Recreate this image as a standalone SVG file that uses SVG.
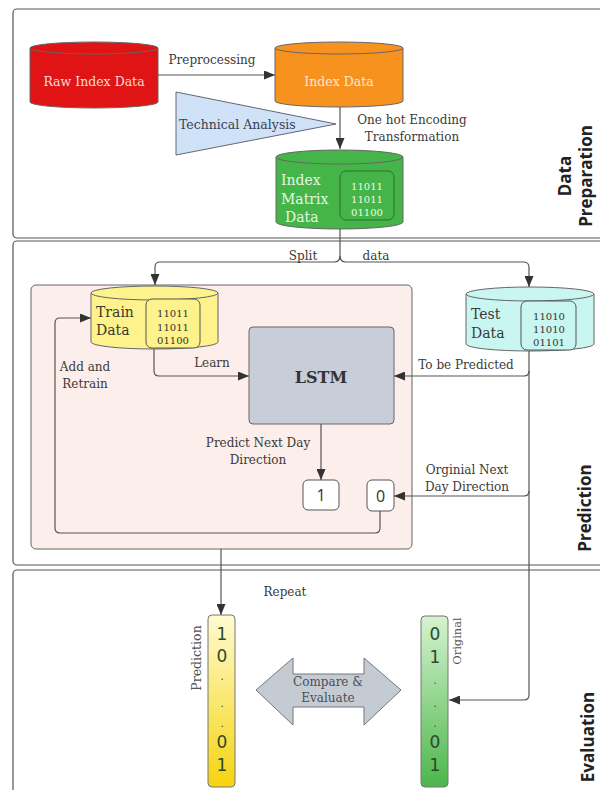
<svg xmlns="http://www.w3.org/2000/svg" width="600" height="790" viewBox="0 0 600 790">
<defs>
<style>
.sec{fill:#fff;stroke:#555;stroke-width:1.2}
.lbl{font-family:"DejaVu Serif","Liberation Serif",serif;font-size:12px;fill:#3a3a3a}
.big{font-family:"DejaVu Serif","Liberation Serif",serif;font-size:14px}
.bin{font-family:"DejaVu Serif","Liberation Serif",serif;font-size:10px;text-anchor:middle}
.side{font-family:"Open Sans","DejaVu Sans",sans-serif;font-size:17px;font-weight:bold;fill:#222;text-anchor:middle}
.dig{font-family:"DejaVu Sans","Open Sans",sans-serif;font-size:17px;fill:#2c4a2c;text-anchor:middle}
.dot{font-family:"DejaVu Sans","Open Sans",sans-serif;font-size:10px;fill:#2c4a2c;text-anchor:middle}
.con{fill:none;stroke:#555;stroke-width:1.2}
.cyl{stroke:#666;stroke-width:1}
</style>
<marker id="ah" markerUnits="userSpaceOnUse" markerWidth="11" markerHeight="9" refX="11" refY="4.5" orient="auto">
<path d="M0,0 L11,4.5 L0,9 Z" fill="#333"/>
</marker>
<linearGradient id="gy" x1="0" y1="0" x2="0" y2="1">
<stop offset="0" stop-color="#fffbd2"/><stop offset="1" stop-color="#f5d40f"/>
</linearGradient>
<linearGradient id="gg" x1="0" y1="0" x2="0" y2="1">
<stop offset="0" stop-color="#d6f3cf"/><stop offset="1" stop-color="#4cb64c"/>
</linearGradient>
</defs>

<g id="sections">
<rect class="sec" x="13" y="9" width="600" height="229" rx="4"/>
<rect class="sec" x="13" y="241" width="600" height="324" rx="4"/>
<rect class="sec" x="13" y="570" width="600" height="240" rx="4"/>
<rect x="31" y="285" width="381" height="264" rx="5" fill="#fbeeeb" stroke="#666" stroke-width="1"/>
<text class="side" transform="translate(571,176) rotate(-90)">Data</text>
<text class="side" transform="translate(592,176) rotate(-90)">Preparation</text>
<text class="side" transform="translate(591,508) rotate(-90)">Prediction</text>
<text class="side" transform="translate(594,737) rotate(-90)">Evaluation</text>
</g>

<g id="connectors">
<path class="con" d="M158 75 H275" marker-end="url(#ah)"/>
<path class="con" d="M340 107 V149" marker-end="url(#ah)"/>
<path class="con" d="M340 229 V256 Q340 262 334 262 H160 Q155 262 155 267 V285" marker-end="url(#ah)"/>
<path class="con" d="M340 256 Q340 262 346 262 H523 Q529 262 529 267 V287" marker-end="url(#ah)"/>
<path class="con" d="M154 349 V371 Q154 376 159 376 H249" marker-end="url(#ah)"/>
<path class="con" d="M529 351 V695 Q529 700 524 700 H449" marker-end="url(#ah)"/>
<path class="con" d="M529 371 Q529 376 524 376 H394" marker-end="url(#ah)"/>
<path class="con" d="M529 491 Q529 496 524 496 H394" marker-end="url(#ah)"/>
<path class="con" d="M321 424 V480" marker-end="url(#ah)"/>
<path class="con" d="M380 511 V528 Q380 533 375 533 H60 Q55 533 55 528 V323 Q55 318 60 318 H91" marker-end="url(#ah)"/>
<path class="con" d="M221 549 V615" marker-end="url(#ah)"/>
<text class="lbl" x="212" y="64" text-anchor="middle">Preprocessing</text>
<text class="lbl" x="412" y="124" text-anchor="middle">One hot Encoding</text>
<text class="lbl" x="412" y="141" text-anchor="middle">Transformation</text>
<text class="lbl" x="303" y="260" text-anchor="middle">Split</text>
<text class="lbl" x="376" y="260" text-anchor="middle">data</text>
<text class="lbl" x="212" y="367" text-anchor="middle">Learn</text>
<text class="lbl" x="466" y="369" text-anchor="middle">To be Predicted</text>
<text class="lbl" x="85" y="371" text-anchor="middle">Add and</text>
<text class="lbl" x="85" y="388" text-anchor="middle">Retrain</text>
<text class="lbl" x="258" y="447" text-anchor="middle">Predict Next Day</text>
<text class="lbl" x="258" y="464" text-anchor="middle">Direction</text>
<text class="lbl" x="467" y="474" text-anchor="middle">Orginial Next</text>
<text class="lbl" x="467" y="491" text-anchor="middle">Day Direction</text>
<text class="lbl" x="285" y="596" text-anchor="middle">Repeat</text>
</g>

<g id="raw-index-data">
<path class="cyl" d="M30 48 V102 A64 6 0 0 0 158 102 V48 Z" fill="#e01414"/>
<ellipse class="cyl" cx="94" cy="48" rx="64" ry="6" fill="#e01414"/>
<text class="lbl" x="94" y="86" text-anchor="middle" style="fill:#f8dcd6;font-size:12.5px">Raw Index Data</text>
</g>

<g id="index-data">
<path class="cyl" d="M275 48 V101 A64 6 0 0 0 403 101 V48 Z" fill="#f7921f"/>
<ellipse class="cyl" cx="339" cy="48" rx="64" ry="6" fill="#f7921f"/>
<text class="lbl" x="339" y="86" text-anchor="middle" style="fill:#fde8cc;font-size:12.5px">Index Data</text>
</g>

<g id="technical-analysis">
<polygon points="176,92 336,124 176,155" fill="#cfe2f7" stroke="#667" stroke-width="1" stroke-linejoin="round"/>
<text class="lbl" x="179" y="129" style="fill:#3a4050;font-size:12.5px">Technical Analysis</text>
</g>

<g id="index-matrix-data">
<path class="cyl" d="M276 157 V222 A63.5 7 0 0 0 403 222 V157 Z" fill="#45b449"/>
<ellipse class="cyl" cx="339.5" cy="157" rx="63.5" ry="7" fill="#45b449"/>
<text class="big" x="281" y="185" fill="#e6f7e2">Index</text>
<text class="big" x="281" y="204" fill="#e6f7e2">Matrix</text>
<text class="big" x="285" y="222" fill="#e6f7e2">Data</text>
<rect x="340" y="171" width="54" height="49" rx="6" fill="#45b449" stroke="#2f6f30" stroke-width="1"/>
<text class="bin" x="367" y="190" fill="#f0fbe8">11011</text>
<text class="bin" x="367" y="203" fill="#f0fbe8">11011</text>
<text class="bin" x="367" y="216" fill="#f0fbe8">01100</text>
</g>

<g id="train-data">
<path class="cyl" d="M91 293 V342 A63.5 7 0 0 0 218 342 V293 Z" fill="#fdf28c"/>
<ellipse class="cyl" cx="154.5" cy="293" rx="63.5" ry="7" fill="#fdf28c"/>
<text class="big" x="96" y="317" fill="#3a3a2a">Train</text>
<text class="big" x="96" y="335" fill="#3a3a2a">Data</text>
<rect x="146" y="299" width="54" height="49" rx="6" fill="#fdf28c" stroke="#555" stroke-width="1"/>
<text class="bin" x="173" y="317" fill="#333">11011</text>
<text class="bin" x="173" y="331" fill="#333">11011</text>
<text class="bin" x="173" y="344" fill="#333">01100</text>
</g>

<g id="test-data">
<path class="cyl" d="M466 294 V344 A64 7 0 0 0 594 344 V294 Z" fill="#c9f6f0"/>
<ellipse class="cyl" cx="530" cy="294" rx="64" ry="7" fill="#c9f6f0"/>
<text class="big" x="471" y="319" fill="#3a3a3a">Test</text>
<text class="big" x="471" y="338" fill="#3a3a3a">Data</text>
<rect x="521" y="301" width="55" height="49" rx="6" fill="#c9f6f0" stroke="#555" stroke-width="1"/>
<text class="bin" x="549" y="320" fill="#333">11010</text>
<text class="bin" x="549" y="333" fill="#333">11010</text>
<text class="bin" x="549" y="346" fill="#333">01101</text>
</g>

<g id="lstm">
<rect x="249" y="327" width="145" height="97" rx="4" fill="#c8ced7" stroke="#666" stroke-width="1"/>
<text x="321" y="383" text-anchor="middle" style="font-family:'DejaVu Serif','Liberation Serif',serif;font-size:16px;font-weight:bold;fill:#333">LSTM</text>
</g>

<g id="pred-one">
<rect x="303" y="480" width="36" height="30" rx="5" fill="#fff" stroke="#555" stroke-width="1"/>
<text x="321" y="501" text-anchor="middle" style="font-family:'Open Sans','DejaVu Sans',sans-serif;font-size:16px;fill:#333">1</text>
</g>

<g id="orig-zero">
<rect x="367" y="480" width="27" height="31" rx="5" fill="#fff" stroke="#555" stroke-width="1"/>
<text x="380.5" y="502" text-anchor="middle" style="font-family:'Open Sans','DejaVu Sans',sans-serif;font-size:16px;fill:#333">0</text>
</g>

<g id="prediction-bar">
<rect x="208" y="615" width="27" height="172" rx="4" fill="url(#gy)" stroke="#777" stroke-width="1"/>
<text class="dig" x="222" y="640">1</text>
<text class="dig" x="222" y="662">0</text>
<text class="dot" x="222" y="680">.</text>
<text class="dot" x="222" y="707">.</text>
<text class="dot" x="222" y="727">.</text>
<text class="dig" x="222" y="748">0</text>
<text class="dig" x="222" y="771">1</text>
<text class="lbl" transform="translate(201,658) rotate(-90)" text-anchor="middle" style="fill:#555;font-size:12.5px">Prediction</text>
</g>

<g id="original-bar">
<rect x="421" y="616" width="27" height="171" rx="4" fill="url(#gg)" stroke="#777" stroke-width="1"/>
<text class="dig" x="435" y="640">0</text>
<text class="dig" x="435" y="663">1</text>
<text class="dot" x="435" y="684">.</text>
<text class="dot" x="435" y="707">.</text>
<text class="dot" x="435" y="727">.</text>
<text class="dig" x="435" y="748">0</text>
<text class="dig" x="435" y="771">1</text>
<text class="lbl" transform="translate(461,641) rotate(-90)" text-anchor="middle" style="fill:#555;font-size:11.5px">Original</text>
</g>

<g id="compare-evaluate">
<polygon points="256,690 293,658 293,674 364,674 364,658 401,690 364,725 364,707 293,707 293,725" fill="#c5cbd3" stroke="#777" stroke-width="1" stroke-linejoin="round"/>
<text class="lbl" x="328" y="686" text-anchor="middle" style="fill:#4a4f58">Compare &amp;</text>
<text class="lbl" x="328" y="702" text-anchor="middle" style="fill:#4a4f58">Evaluate</text>
</g>
</svg>
